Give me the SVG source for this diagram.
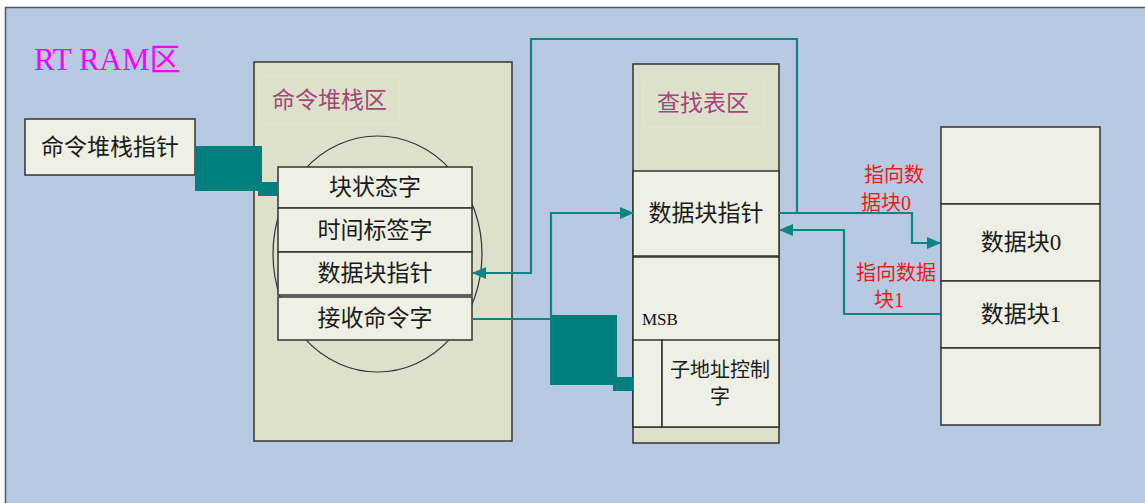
<svg xmlns="http://www.w3.org/2000/svg" width="1145" height="503" viewBox="0 0 1145 503">
<defs>
<style>
.box{fill:#EEF0E4;stroke:#333;stroke-width:1.5}
.area{fill:#DDE1CB;stroke:#333;stroke-width:1.5}
.t{font-family:"Liberation Serif","Noto Sans CJK SC",serif;fill:#1a1a1a;dominant-baseline:central}
.c{text-anchor:middle}
.lab{fill:#A2467A}
.red{fill:#F01818;font-size:20px}
.wire{fill:none;stroke:#0E8585;stroke-width:2.2}
.thick{fill:#007F7F}
</style>
<marker id="ah" viewBox="0 0 14 12" refX="13" refY="6" markerWidth="14" markerHeight="12" markerUnits="userSpaceOnUse" orient="auto">
<path d="M0,0 L14,6 L0,12 Z" fill="#0E8585"/>
</marker>
</defs>
<rect x="0" y="0" width="1145" height="503" fill="#fff"/>
<rect x="5.5" y="7.5" width="1200" height="600" fill="#B8C9E2" stroke="#555" stroke-width="1.5"/>
<text id="title" x="34" y="70" style="font-family:'Liberation Serif','Noto Sans CJK SC',serif;font-size:31px;fill:#FF00FF">RT RAM区</text>

<g id="cmd-stack-ptr">
<rect class="box" x="25" y="119" width="170" height="56"/>
<text class="t c" x="110" y="147" font-size="23">命令堆栈指针</text>
</g>

<g id="cmd-stack-area">
<rect class="area" x="254" y="62" width="258" height="379"/>
<rect x="259" y="76" width="140" height="48" fill="none" stroke="#E2E6D3" stroke-width="1"/>
<text class="t lab" x="272" y="100" font-size="23">命令堆栈区</text>
<ellipse cx="377.5" cy="254" rx="104.5" ry="118" fill="none" stroke="#333" stroke-width="1.2"/>
</g>
<g id="block-status">
<rect class="box" x="278" y="167" width="194" height="41"/>
<text class="t c" x="375" y="187" font-size="23">块状态字</text>
</g>
<g id="time-tag">
<rect class="box" x="278" y="208" width="194" height="44"/>
<text class="t c" x="375" y="230" font-size="23">时间标签字</text>
</g>
<g id="data-ptr-a">
<rect class="box" x="278" y="252" width="194" height="43"/>
<text class="t c" x="375" y="273" font-size="23">数据块指针</text>
</g>
<g id="recv-cmd">
<rect class="box" x="278" y="297" width="194" height="43"/>
<text class="t c" x="375" y="318" font-size="23">接收命令字</text>
</g>

<g id="lookup-area">
<rect class="area" x="633" y="64" width="146" height="379"/>
<rect x="643" y="80" width="121" height="47" fill="none" stroke="#E2E6D3" stroke-width="1"/>
<text class="t c lab" x="703" y="103" font-size="23">查找表区</text>
</g>
<g id="data-ptr-b">
<rect class="box" x="633" y="171" width="146" height="85"/>
<text class="t c" x="706" y="213" font-size="23">数据块指针</text>
</g>
<g id="msb">
<rect class="box" x="633" y="257" width="146" height="170"/>
<text x="642" y="325" style="font-family:'Liberation Serif',serif;font-size:17px;fill:#111">MSB</text>
</g>
<g id="subaddr">
<rect class="box" x="633" y="340" width="29" height="87"/>
<rect class="box" x="662" y="340" width="117" height="87"/>
<text class="t c" x="720" y="370" font-size="20">子地址控制</text>
<text class="t c" x="720" y="397" font-size="20">字</text>
</g>

<g id="data-blocks">
<rect class="box" x="941" y="127" width="159" height="77"/>
<rect class="box" x="941" y="204" width="159" height="77"/>
<rect class="box" x="941" y="281" width="159" height="67"/>
<rect class="box" x="941" y="348" width="159" height="77"/>
<text class="t c" x="1021" y="242" font-size="23">数据块0</text>
<text class="t c" x="1021" y="314" font-size="23">数据块1</text>
</g>

<g id="connectors">
<rect class="thick" x="195" y="146" width="67" height="45"/>
<rect class="thick" x="258" y="182" width="20" height="14"/>
<polyline class="wire" points="472,319 551,319"/>
<polyline class="wire" points="551,316 551,213 633,213" marker-end="url(#ah)"/>
<rect class="thick" x="550" y="315" width="67" height="70"/>
<rect class="thick" x="613" y="377" width="20" height="14"/>
<polyline class="wire" points="779,213 797,213 797,39 531,39 531,273 473,273" marker-end="url(#ah)"/>
<polyline class="wire" points="797,213 912,213 912,243 940,243" marker-end="url(#ah)"/>
<polyline class="wire" points="940,314 844,314 844,230 780,230" marker-end="url(#ah)"/>
</g>
<g id="labels">
<text class="t red" x="864" y="175">指向数</text>
<text class="t red" x="861" y="203">据块0</text>
<text class="t red" x="856" y="273">指向数据</text>
<text class="t red" x="874" y="300">块1</text>
</g>
</svg>
